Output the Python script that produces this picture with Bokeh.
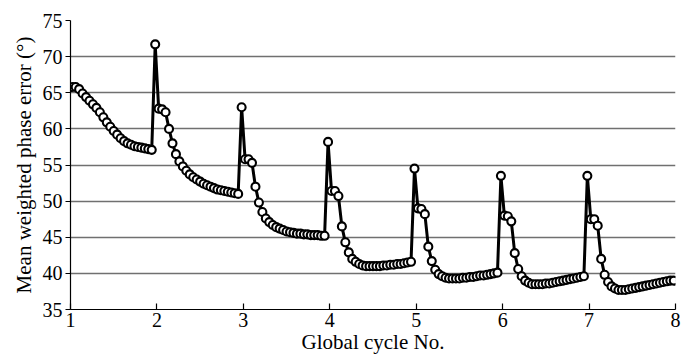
import numpy as np
from bokeh.plotting import figure
from bokeh.models import Range1d, FixedTicker, ColumnDataSource
from bokeh.embed import file_html
from bokeh.resources import INLINE

# sample spacing along the global-cycle axis (25 samples per cycle)
x_start = 1.02
x_step = 0.04

cycle1 = [65.8, 65.8, 65.5, 64.9, 64.4, 63.9, 63.4, 62.9, 62.3, 61.6, 60.9, 60.3, 59.7,
          59.2, 58.7, 58.3, 58.0, 57.8, 57.6, 57.5, 57.4, 57.3, 57.2, 57.1, 71.7]
cycle2 = [62.8, 62.7, 62.3, 60.0, 58.0, 56.5, 55.5, 54.8, 54.2, 53.7, 53.3, 53.0, 52.7,
          52.4, 52.2, 52.0, 51.8, 51.6, 51.5, 51.4, 51.3, 51.2, 51.1, 51.0, 63.0]
cycle3 = [55.8, 55.8, 55.3, 52.0, 49.8, 48.5, 47.6, 47.1, 46.7, 46.4, 46.2, 46.0, 45.8,
          45.7, 45.6, 45.5, 45.5, 45.4, 45.4, 45.3, 45.3, 45.3, 45.2, 45.2, 58.2]
cycle4 = [51.4, 51.4, 50.7, 46.5, 44.3, 42.9, 42.0, 41.6, 41.3, 41.1, 41.0, 41.0, 41.0,
          41.0, 41.0, 41.1, 41.1, 41.2, 41.2, 41.3, 41.3, 41.4, 41.5, 41.6, 54.5]
cycle5 = [49.0, 48.9, 48.2, 43.7, 41.7, 40.5, 39.9, 39.6, 39.4, 39.3, 39.3, 39.3, 39.3,
          39.4, 39.4, 39.5, 39.5, 39.6, 39.7, 39.7, 39.8, 39.9, 40.0, 40.1, 53.5]
cycle6 = [48.0, 47.9, 47.2, 42.8, 40.6, 39.6, 39.0, 38.7, 38.5, 38.5, 38.5, 38.5, 38.6,
          38.6, 38.7, 38.8, 38.9, 39.0, 39.1, 39.2, 39.3, 39.4, 39.5, 39.6, 53.5]
cycle7 = [47.5, 47.5, 46.6, 42.0, 39.8, 38.8, 38.2, 37.9, 37.7, 37.7, 37.7, 37.8, 37.9,
          38.0, 38.1, 38.2, 38.3, 38.4, 38.5, 38.6, 38.7, 38.8, 38.9, 39.0, 39.0]

x_ticks = [1, 2, 3, 4, 5, 6, 7, 8]
y_ticks = [35, 40, 45, 50, 55, 60, 65, 70, 75]

values = cycle1 + cycle2 + cycle3 + cycle4 + cycle5 + cycle6 + cycle7
xs = x_start + x_step * np.arange(len(values))
src = ColumnDataSource(dict(x=xs, y=values))

p = figure(width=682, height=361, output_backend="svg", toolbar_location=None,
           x_range=Range1d(1, 8), y_range=Range1d(35, 75),
           min_border_left=70, min_border_right=7, min_border_top=20, min_border_bottom=52)
p.outline_line_color = None
p.background_fill_color = "white"

p.xgrid.grid_line_color = None
p.ygrid.ticker = FixedTicker(ticks=y_ticks)
p.ygrid.grid_line_color = "#707070"
p.ygrid.grid_line_width = 1.6

p.line("x", "y", source=src, line_color="black", line_width=3)
p.scatter("x", "y", source=src, size=8, fill_color="white", line_color="black", line_width=2.1)

font = "Liberation Serif"
for ax in (p.xaxis[0], p.yaxis[0]):
    ax.axis_line_color = "black"
    ax.axis_line_width = 1.2
    ax.major_tick_line_color = "black"
    ax.major_tick_line_width = 1.2
    ax.minor_tick_line_color = None
    ax.major_label_text_font = font
    ax.major_label_text_font_size = "20px"
    ax.major_label_text_color = "black"
    ax.axis_label_text_font = font
    ax.axis_label_text_font_style = "normal"
    ax.axis_label_text_font_size = "21px"
    ax.axis_label_text_color = "black"

p.xaxis.ticker = FixedTicker(ticks=x_ticks)
p.xaxis.major_tick_in = 6
p.xaxis.major_tick_out = 0
p.xaxis.major_label_standoff = 3
p.xaxis.axis_label = "Global cycle No."
p.xaxis.axis_label_standoff = 0

p.yaxis.ticker = FixedTicker(ticks=y_ticks)
p.yaxis.major_tick_in = 0
p.yaxis.major_tick_out = 5
p.yaxis.major_label_standoff = 3
p.yaxis.axis_label = "Mean weighted phase error (°)"
p.yaxis.axis_label_standoff = 4

open("out.html", "w").write(file_html(p, INLINE))
